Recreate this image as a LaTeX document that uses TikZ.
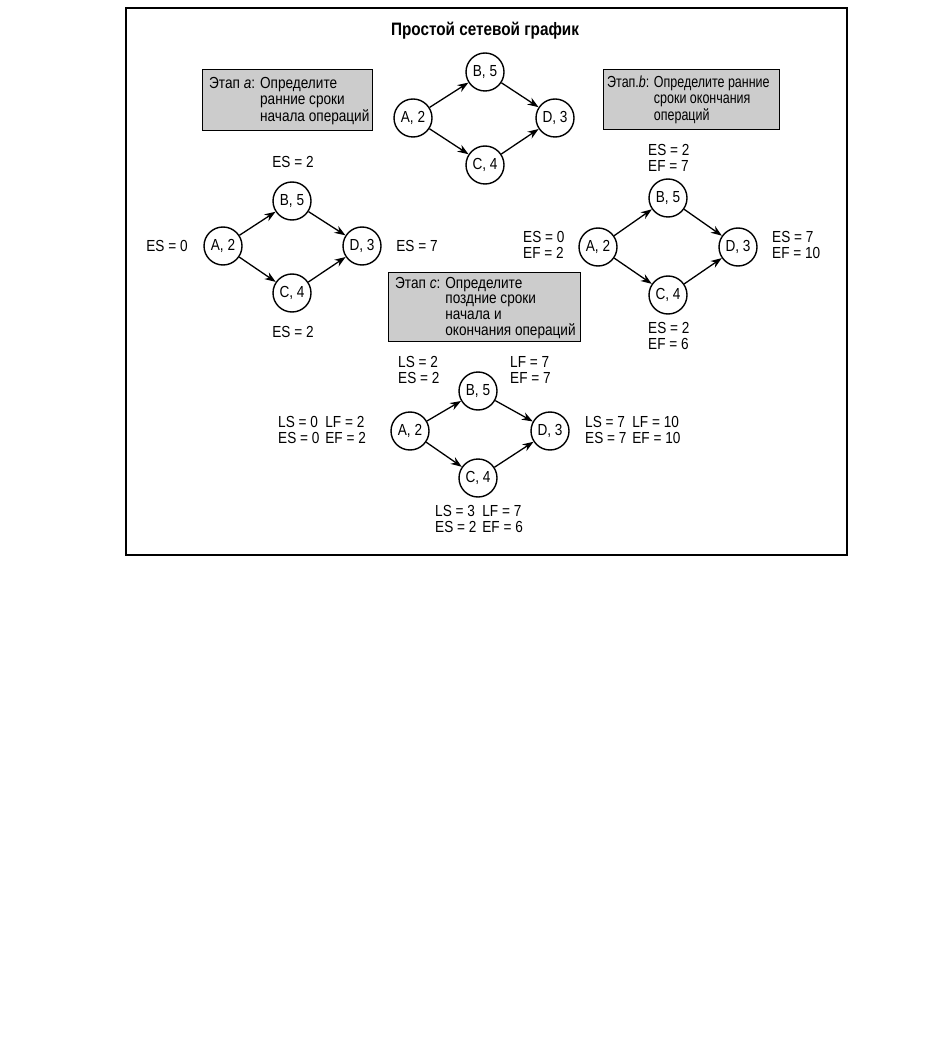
\documentclass[tikz,border=0pt]{standalone}
\usepackage{fontspec}
\setmainfont{Liberation Sans}[FakeStretch=0.85]
\newfontfamily\narrowfam{Liberation Sans}[FakeStretch=0.78]
\usetikzlibrary{arrows.meta}
\newcommand\lblfont{\fontsize{16}{15.5}\selectfont}
\newcommand\ttlfont{\fontsize{18}{20}\selectfont\bfseries}
\tikzset{
  op/.style={circle, draw, line width=1.4pt, minimum size=38pt, inner sep=0pt, font=\lblfont},
  arr/.style={-{Stealth[length=11pt,width=8pt]}, line width=1.3pt},
  stagebox/.style={draw, line width=1.3pt, fill=black!20, anchor=north west, inner sep=0pt},
  stagetext/.style={anchor=base west, inner sep=0pt, font=\lblfont},
  lbl/.style={font=\lblfont, inner sep=0pt, align=left},
}
\begin{document}
\begin{tikzpicture}[x=1pt,y=-1pt]
\useasboundingbox (0,0) rectangle (942,1048);
% frame
\node[draw, line width=1.8pt, minimum width=721pt, minimum height=547pt, anchor=north west, inner sep=0pt] (frame) at (125,7) {};
% title
\node[font=\ttlfont, inner sep=0pt] (title) at (485,31) {Простой сетевой график};

% top graph
\node[op] (tA) at (413,118) {A, 2};
\node[op] (tB) at (485,72) {B, 5};
\node[op] (tC) at (485,165) {C, 4};
\node[op] (tD) at (555,118) {D, 3};
\draw[arr] (tA) -- (tB);
\draw[arr] (tA) -- (tC);
\draw[arr] (tB) -- (tD);
\draw[arr] (tC) -- (tD);

% stage a
\node[stagebox, minimum width=170pt, minimum height=61pt] (boxa) at (202,69) {};
\node[stagetext] (texta) at (209,89) {\begin{tabular}[t]{@{}l@{ }l@{}}Этап \textit{a}: & Определите\\ & ранние сроки\\ & начала операций\end{tabular}};

% stage b
\node[stagebox, minimum width=176pt, minimum height=60pt] (boxb) at (603,69) {};
\node[stagetext, font=\lblfont\narrowfam] (textb) at (607,88) {\begin{tabular}[t]{@{}l@{ }l@{}}Этап.\textit{b}: & Определите ранние\\ & сроки окончания\\ & операций\end{tabular}};

% stage c
\node[stagebox, minimum width=192pt, minimum height=69pt] (boxc) at (388,272) {};
\node[stagetext] (textc) at (395,288) {\begin{tabular}[t]{@{}l@{ }l@{}}Этап \textit{c}: & Определите\\ & поздние сроки\\ & начала и\\ & окончания операций\end{tabular}};

% graph a
\node[op] (aA) at (223,246) {A, 2};
\node[op] (aB) at (292,201) {B, 5};
\node[op] (aC) at (292,293) {C, 4};
\node[op] (aD) at (362,246) {D, 3};
\draw[arr] (aA) -- (aB);
\draw[arr] (aA) -- (aC);
\draw[arr] (aB) -- (aD);
\draw[arr] (aC) -- (aD);
\node[lbl] (aBl) at (293,162) {ES = 2};
\node[lbl] (aAl) at (167,246) {ES = 0};
\node[lbl] (aDl) at (417,246) {ES = 7};
\node[lbl] (aCl) at (293,332) {ES = 2};

% graph b
\node[op] (bA) at (598,247) {A, 2};
\node[op] (bB) at (668,198) {B, 5};
\node[op] (bC) at (668,295) {C, 4};
\node[op] (bD) at (738,247) {D, 3};
\draw[arr] (bA) -- (bB);
\draw[arr] (bA) -- (bC);
\draw[arr] (bB) -- (bD);
\draw[arr] (bC) -- (bD);
\node[lbl, anchor=west] (bBl) at (648,158) {ES = 2\\EF = 7};
\node[lbl, anchor=west] (bAl) at (523,245) {ES = 0\\EF = 2};
\node[lbl, anchor=west] (bDl) at (772,245) {ES = 7\\EF = 10};
\node[lbl, anchor=west] (bCl) at (648,336) {ES = 2\\EF = 6};

% graph c
\node[op] (cA) at (410,431) {A, 2};
\node[op] (cB) at (478,391) {B, 5};
\node[op] (cC) at (478,478) {C, 4};
\node[op] (cD) at (550,431) {D, 3};
\draw[arr] (cA) -- (cB);
\draw[arr] (cA) -- (cC);
\draw[arr] (cB) -- (cD);
\draw[arr] (cC) -- (cD);
\node[lbl, anchor=west] (cBl1) at (398,370) {LS = 2\\ES = 2};
\node[lbl, anchor=west] (cBl2) at (510,370) {LF = 7\\EF = 7};
\node[lbl, anchor=west] (cAl) at (278,432) {\begin{tabular}{@{}l@{\hspace{6pt}}l@{}}LS = 0 & LF = 2\\ES = 0 & EF = 2\end{tabular}};
\node[lbl, anchor=west] (cDl) at (585,432) {\begin{tabular}{@{}l@{\hspace{6pt}}l@{}}LS = 7 & LF = 10\\ES = 7 & EF = 10\end{tabular}};
\node[lbl, anchor=west] (cCl) at (435,521) {\begin{tabular}{@{}l@{\hspace{6pt}}l@{}}LS = 3 & LF = 7\\ES = 2 & EF = 6\end{tabular}};
\end{tikzpicture}
\end{document}
